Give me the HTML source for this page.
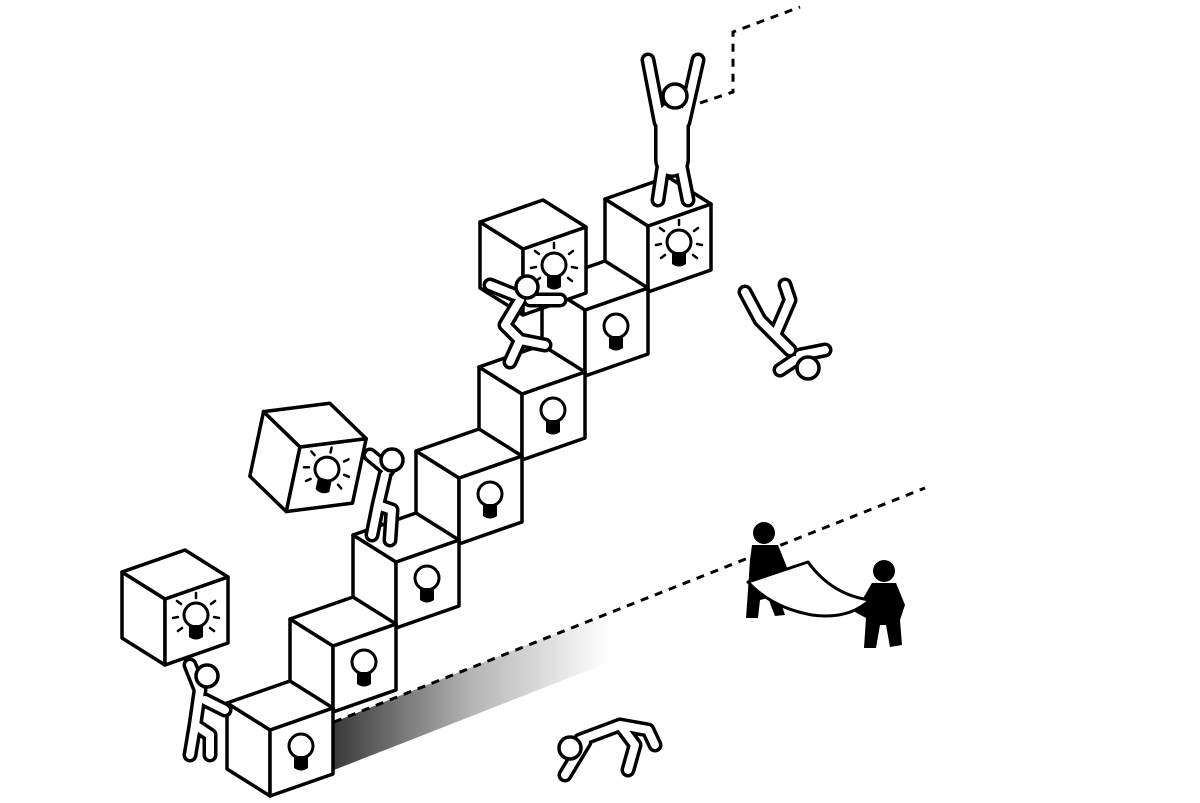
<!DOCTYPE html>
<html><head><meta charset="utf-8"><style>
html,body{margin:0;padding:0;background:#fff;}
svg{display:block;}
</style></head><body>
<svg width="1200" height="803" viewBox="0 0 1200 803" xmlns="http://www.w3.org/2000/svg">
<defs>
<linearGradient id="sh" x1="0" y1="0" x2="1" y2="0">
<stop offset="0" stop-color="#3a3a3a"/><stop offset="0.45" stop-color="#b5b5b5"/><stop offset="0.9" stop-color="#fff"/>
</linearGradient>
<g id="cube" stroke="#000" stroke-width="3.5" stroke-linejoin="round" fill="#fff">
<path d="M0,0 L-43,-27 L-43,39 L0,66 Z"/>
<path d="M0,0 L63,-22 L63,44 L0,66 Z"/>
<path d="M0,0 L63,-22 L20,-49 L-43,-27 Z"/>
<circle cx="31" cy="16" r="12" stroke-width="3"/>
<path d="M24,26 L38,26 L38,38 Q31,43 24,38 Z" fill="#000" stroke="none"/>
</g>
<g id="rays" stroke="#000" stroke-width="2.5" stroke-linecap="round">
<line x1="31" y1="-1" x2="31" y2="-6"/>
<line x1="16" y1="5" x2="12" y2="2"/>
<line x1="46" y1="5" x2="50" y2="2"/>
<line x1="13" y1="18" x2="8" y2="19"/>
<line x1="49" y1="18" x2="54" y2="19"/>
<line x1="17" y1="29" x2="13" y2="32"/>
<line x1="45" y1="29" x2="49" y2="32"/>
</g>
</defs>

<polygon points="334,722 640,600 640,650 334,770" fill="url(#sh)"/>
<line x1="334" y1="722" x2="925" y2="488" stroke="#000" stroke-width="3" stroke-dasharray="8 7"/>
<path d="M700,103 L733,92 L733,32 L800,7" fill="none" stroke="#000" stroke-width="3" stroke-dasharray="8 7"/>

<use href="#cube" transform="translate(648,226)"/><use href="#rays" transform="translate(648,226)"/>
<use href="#cube" transform="translate(585,310)"/>
<use href="#cube" transform="translate(522,394)"/>
<use href="#cube" transform="translate(459,478)"/>
<use href="#cube" transform="translate(396,562)"/>
<use href="#cube" transform="translate(333,646)"/>
<use href="#cube" transform="translate(270,730)"/>

<use href="#cube" transform="translate(523,249)"/><use href="#rays" transform="translate(523,249)"/>
<g transform="translate(300,447) rotate(12)"><use href="#cube"/><use href="#rays"/></g>
<use href="#cube" transform="translate(165,599)"/><use href="#rays" transform="translate(165,599)"/>

<g fill="none" stroke-linecap="round" stroke-linejoin="round">
<g stroke="#000" stroke-width="15">
<path d="M660,122 L648,60 M684,122 L698,60 M664,160 L658,200 M680,160 L688,200"/>
<path d="M672,118 L672,160" stroke-width="36"/>
<path d="M790,350 L760,320 L745,292 M775,335 L790,300 L785,285 M800,355 L825,350 M795,360 L780,370"/>
<path d="M580,740 L620,725 M620,725 L648,730 L655,745 M620,725 L635,745 L628,770 M585,742 L565,775"/>
<path d="M520,300 L505,325 L520,340 L510,362 M520,340 L545,345 M530,300 L560,300 M515,295 L490,285"/>
<path d="M385,475 L378,505 L372,535 M378,505 L392,510 L390,540 M388,470 L370,455"/>
<path d="M200,690 L195,725 L190,755 M195,725 L210,735 L210,755 M200,690 L190,665 M205,700 L225,710"/>
</g>
<g stroke="#fff" stroke-width="8">
<path d="M660,122 L648,60 M684,122 L698,60 M664,160 L658,200 M680,160 L688,200"/>
<path d="M672,118 L672,160" stroke-width="29"/>
<path d="M790,350 L760,320 L745,292 M775,335 L790,300 L785,285 M800,355 L825,350 M795,360 L780,370"/>
<path d="M580,740 L620,725 M620,725 L648,730 L655,745 M620,725 L635,745 L628,770 M585,742 L565,775"/>
<path d="M520,300 L505,325 L520,340 L510,362 M520,340 L545,345 M530,300 L560,300 M515,295 L490,285"/>
<path d="M385,475 L378,505 L372,535 M378,505 L392,510 L390,540 M388,470 L370,455"/>
<path d="M200,690 L195,725 L190,755 M195,725 L210,735 L210,755 M200,690 L190,665 M205,700 L225,710"/>
</g>
</g>
<g fill="#fff" stroke="#000" stroke-width="3.5">
<circle cx="675" cy="96" r="12"/>
<circle cx="808" cy="368" r="11"/>
<circle cx="570" cy="748" r="11"/>
<circle cx="527" cy="287" r="11"/>
<circle cx="392" cy="460" r="11"/>
<circle cx="207" cy="676" r="11"/>
</g>

<g fill="#000">
<circle cx="764" cy="533" r="11"/>
<path d="M752,545 L778,545 L792,580 L785,590 L780,600 L785,615 L775,616 L768,598 L760,600 L758,618 L746,618 L748,590 L750,560 Z"/>
<circle cx="884" cy="571" r="11"/>
<path d="M872,583 L896,583 L905,605 L900,620 L902,645 L890,647 L886,625 L880,625 L876,648 L864,648 L866,618 L855,612 L865,595 Z"/>
</g>
<path d="M748,582 L808,562 Q832,595 870,600 Q848,620 812,615 Q772,608 748,582 Z" fill="#fff" stroke="#000" stroke-width="3" stroke-linejoin="round"/>
</svg>
</body></html>
